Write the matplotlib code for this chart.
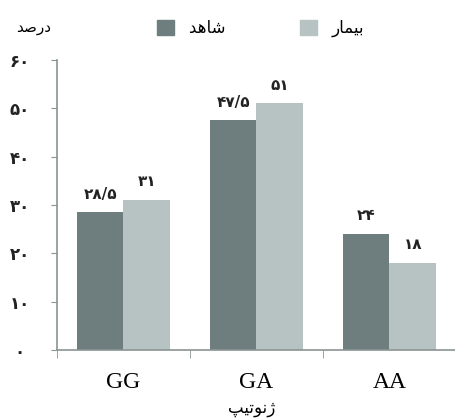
import matplotlib
matplotlib.use("Agg")
import matplotlib.pyplot as plt
from matplotlib.patches import Patch
import numpy as np

# داده ها
genotypes = ["GG", "GA", "AA"]
control = [28.5, 47.5, 24]
patient = [31, 51, 18]
yticks = [0, 10, 20, 30, 40, 50, 60]

label_control = "شاهد"
label_patient = "بیمار"
label_y = "درصد"
label_x = "ژنوتیپ"

color_control = "#6e7d7d"
color_patient = "#b7c3c3"
axis_color = "#8a9494"

# شکل دادن حروف فارسی (matplotlib حروف را به هم وصل نمی کند)
forms = {
    "ا": ("\uFE8D", "\uFE8E"),
    "د": ("\uFEA9", "\uFEAA"),
    "ر": ("\uFEAD", "\uFEAE"),
    "ژ": ("\uFB8A", "\uFB8B"),
    "و": ("\uFEED", "\uFEEE"),
    "ب": ("\uFE8F", "\uFE90", "\uFE91", "\uFE92"),
    "پ": ("\uFB56", "\uFB57", "\uFB58", "\uFB59"),
    "ت": ("\uFE95", "\uFE96", "\uFE97", "\uFE98"),
    "ش": ("\uFEB5", "\uFEB6", "\uFEB7", "\uFEB8"),
    "ص": ("\uFEB9", "\uFEBA", "\uFEBB", "\uFEBC"),
    "م": ("\uFEE1", "\uFEE2", "\uFEE3", "\uFEE4"),
    "ن": ("\uFEE5", "\uFEE6", "\uFEE7", "\uFEE8"),
    "ه": ("\uFEE9", "\uFEEA", "\uFEEB", "\uFEEC"),
    "ی": ("\uFBFC", "\uFBFD", "\uFBFE", "\uFBFF"),
}

def fa(s):
    out = []
    for i, c in enumerate(s):
        f = forms[c]
        prev_join = i > 0 and len(forms[s[i - 1]]) == 4
        next_join = i < len(s) - 1 and len(f) == 4
        if prev_join and next_join:
            out.append(f[3])
        elif prev_join:
            out.append(f[1])
        elif next_join:
            out.append(f[2])
        else:
            out.append(f[0])
    return "".join(reversed(out))

digits = str.maketrans("0123456789.", "۰۱۲۳۴۵۶۷۸۹/")

def fa_num(v):
    s = ("%g" % v)
    return s.translate(digits)

plt.rcParams['font.family'] = ['DejaVu Sans']

fig = plt.figure(figsize=(4.56, 4.19), dpi=100)
ax = fig.add_axes([0.125, 0.165, 0.875, 0.692])

x = np.arange(len(genotypes))
w = 0.35
b1 = ax.bar(x - w / 2, control, w, color=color_control)
b2 = ax.bar(x + w / 2, patient, w, color=color_patient)

for bars, vals in ((b1, control), (b2, patient)):
    for r, v in zip(bars, vals):
        ax.text(r.get_x() + r.get_width() / 2, v + 2.2, fa_num(v),
                ha="center", va="bottom", fontsize=11, fontweight="bold",
                color="#222222")

ax.set_xlim(-0.5, 2.5)
ax.set_ylim(0, 60)
ax.set_yticks(yticks)
ax.set_yticklabels([fa_num(t) for t in yticks], fontsize=12, fontweight="bold",
                   ha="center")
ax.tick_params(axis="y", length=4, pad=23, color=axis_color, labelcolor="#222222")

ax.set_xticks(x)
ax.set_xticklabels(genotypes, family=["Liberation Serif"], fontsize=17)
ax.tick_params(axis="x", which="major", length=0, pad=16)
ax.set_xticks([-0.5, 0.5, 1.5], minor=True)
ax.tick_params(axis="x", which="minor", length=6, color=axis_color, direction="out")

for s in ["top", "right"]:
    ax.spines[s].set_visible(False)
for s in ["left", "bottom"]:
    ax.spines[s].set_color(axis_color)
    ax.spines[s].set_linewidth(1.2)

fig.text(0.552, 0.027, fa(label_x), ha="center", va="center", fontsize=12)
fig.text(0.073, 0.935, fa(label_y), ha="center", va="center", fontsize=11)

handles = [Patch(color=color_control), Patch(color=color_patient)]
fig.legend(handles, [fa(label_control), fa(label_patient)], loc="center",
           bbox_to_anchor=(0.572, 0.933), ncol=2, frameon=False,
           handlelength=1.0, handleheight=1.0, columnspacing=4.5,
           handletextpad=0.9, fontsize=12)

fig.savefig("out.png", dpi=100)
